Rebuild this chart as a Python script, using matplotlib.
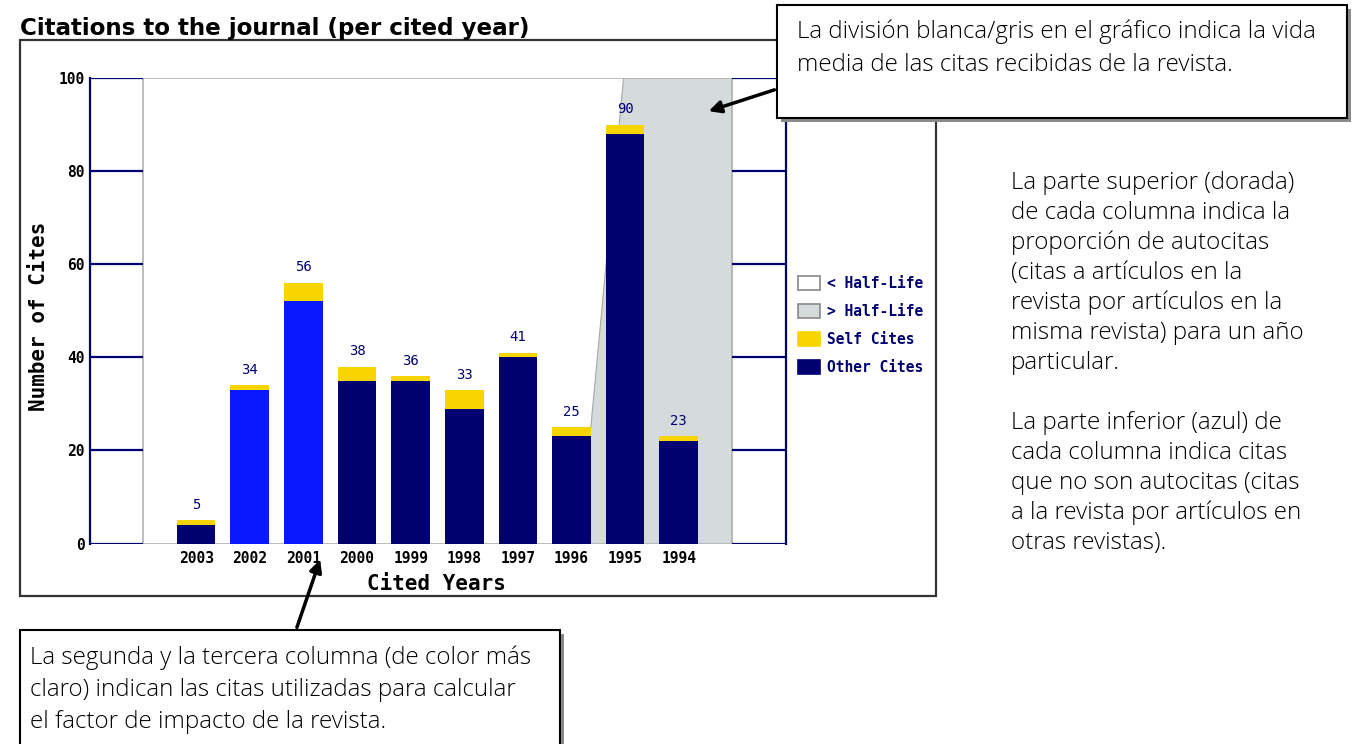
import numpy as np
import matplotlib.pyplot as plt
from matplotlib.patches import Rectangle, Polygon

# data
years = ['2003', '2002', '2001', '2000', '1999', '1998', '1997', '1996', '1995', '1994']
totals = [5, 34, 56, 38, 36, 33, 41, 25, 90, 23]
self_cites = [1, 1, 4, 3, 1, 4, 1, 2, 2, 1]
other_cites = [t - s for t, s in zip(totals, self_cites)]
impact_years = ['2002', '2001']
y_ticks = [0, 20, 40, 60, 80, 100]
# half-life boundary (x position in bar units, at y)
half_life_edge = [(7.36, 0), (7.36, 25), (7.97, 100)]

legend_labels = ['< Half-Life', '> Half-Life', 'Self Cites', 'Other Cites']

navy = '#000070'
light_blue = '#0a18ff'
gold = '#f8d400'
grey_area = '#d5dbdb'
grey_line = '#b0b0b0'

W, H = 1356, 744
fig = plt.figure(figsize=(W / 100, H / 100), dpi=100)
fig.patch.set_facecolor('white')

mono = 'DejaVu Sans Mono'
note_font = ['Open Sans', 'DejaVu Sans']

# chart axes (pixel box 90..786 x 78..543.5)
x0, x1, yt, yb = 90, 786, 78, 543.5
ax = fig.add_axes([x0 / W, 1 - yb / H, (x1 - x0) / W, (yb - yt) / H])
ax.set_xlim(-1.98, 11.0)
ax.set_ylim(0, 100)
ax.set_facecolor('white')

# walls
for s in ['top', 'bottom']:
    ax.spines[s].set_visible(False)
for s in ['left', 'right']:
    ax.spines[s].set_color(navy)
    ax.spines[s].set_linewidth(1.6)
for y in y_ticks:
    ax.hlines(y, -1.98, -1, color=navy, lw=1.6, zorder=3)
    ax.hlines(y, 10, 11.0, color=navy, lw=1.6, zorder=3)

# half-life grey area
poly = half_life_edge + [(10, 100), (10, 0)]
ax.add_patch(Polygon(poly, closed=True, fc=grey_area, ec='none', zorder=1))
ax.plot([p[0] for p in half_life_edge[1:]], [p[1] for p in half_life_edge[1:]],
        color='#a8a8a8', lw=0.8, zorder=1.5)

# plot area border
ax.plot([-1, -1, 10, 10], [0, 100, 100, 0], color=grey_line, lw=1.2, zorder=2)
ax.hlines(0, -1, 10, color=grey_line, lw=1.2, zorder=2)

# bars
xs = np.arange(len(years))
bar_colors = [light_blue if y in impact_years else navy for y in years]
ax.bar(xs, other_cites, width=0.72, color=bar_colors, zorder=4)
ax.bar(xs, self_cites, width=0.72, bottom=other_cites, color=gold, zorder=4)
for x, t in zip(xs, totals):
    ax.annotate(str(t), (x, t), xytext=(0, 6), textcoords='offset points',
                ha='center', va='bottom', fontsize=10, family=mono,
                color=navy, zorder=5)

ax.set_xticks(xs)
ax.set_xticklabels(years, family=mono, fontweight='bold', fontsize=10.5)
ax.set_yticks(y_ticks)
ax.set_yticklabels([str(v) for v in y_ticks], family=mono, fontweight='bold', fontsize=10.5)
ax.tick_params(axis='both', length=0)
ax.tick_params(axis='x', pad=5.5)
ax.tick_params(axis='y', pad=4)

ax.set_xlabel('Cited Years', family=mono, fontweight='bold', fontsize=15)
ax.xaxis.set_label_coords((436 - x0) / (x1 - x0), (yb - 584) / (yb - yt))
ax.xaxis.label.set_va('center')
ax.set_ylabel('Number of Cites', family=mono, fontweight='bold', fontsize=15)
ax.yaxis.set_label_coords((39 - x0) / (x1 - x0), (yb - 316) / (yb - yt))
ax.yaxis.label.set_va('center')

# overlay in pixel coordinates
ov = fig.add_axes([0, 0, 1, 1], zorder=5)
ov.set_xlim(0, W)
ov.set_ylim(H, 0)
ov.axis('off')
ov.patch.set_alpha(0)

ov.add_patch(Rectangle((20, 40), 916, 556, fill=False, ec='#333333', lw=1.6))
ov.text(20, 35, 'Citations to the journal (per cited year)', fontsize=16.6,
        fontweight='bold', family='DejaVu Sans', va='baseline', ha='left')

# legend
leg_faces = ['white', grey_area, gold, navy]
leg_edges = ['#888888', '#888888', gold, navy]
for i, (lab, fc, ec) in enumerate(zip(legend_labels, leg_faces, leg_edges)):
    yc = 283 + i * 28
    ov.add_patch(Rectangle((798, yc - 7), 22, 14, fc=fc, ec=ec, lw=1.2))
    ov.text(827, yc, lab, fontsize=10.5, family=mono, fontweight='bold',
            color=navy, va='center', ha='left')

def note_box(x, y, w, h):
    ov.add_patch(Rectangle((x + 4, y + 4), w, h, fc='#8a8a8a', ec='none'))
    ov.add_patch(Rectangle((x, y), w, h, fc='white', ec='black', lw=1.5))

def put_lines(lines, x, y0, dy, size=17.4):
    for i, line in enumerate(lines):
        ov.text(x, y0 + i * dy, line, fontsize=size, family=note_font,
                fontweight='light', va='center', ha='left', color='black')

# top-right note
note_box(777, 5, 570, 113)
put_lines(['La división blanca/gris en el gráfico indica la vida',
           'media de las citas recibidas de la revista.'], 797, 32, 33)
ov.annotate('', xy=(706, 112), xytext=(777, 89),
            arrowprops=dict(arrowstyle='-|>', color='black', lw=2.5,
                            mutation_scale=18))

# right notes
put_lines(['La parte superior (dorada)',
           'de cada columna indica la',
           'proporción de autocitas',
           '(citas a artículos en la',
           'revista por artículos en la',
           'misma revista) para un año',
           'particular.'], 1011, 183, 30)
put_lines(['La parte inferior (azul) de',
           'cada columna indica citas',
           'que no son autocitas (citas',
           'a la revista por artículos en',
           'otras revistas).'], 1011, 423, 30)

# bottom note
note_box(20, 630, 540, 130)
put_lines(['La segunda y la tercera columna (de color más',
           'claro) indican las citas utilizadas para calcular',
           'el factor de impacto de la revista.'], 30, 658, 32)
ov.annotate('', xy=(321, 557), xytext=(296, 630),
            arrowprops=dict(arrowstyle='-|>', color='black', lw=2.5,
                            mutation_scale=18))

fig.savefig('out.png', dpi=100)
